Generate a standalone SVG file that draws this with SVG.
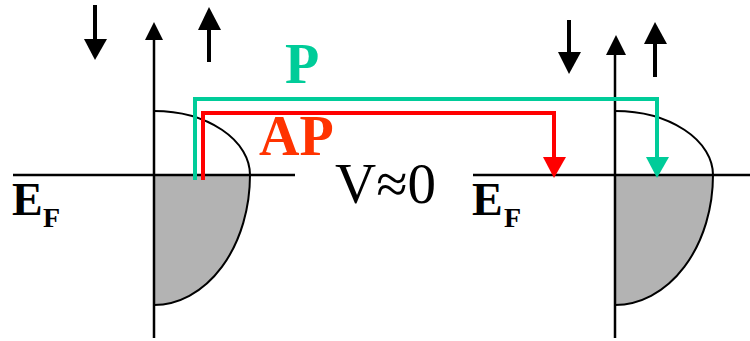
<svg xmlns="http://www.w3.org/2000/svg" width="750" height="341" viewBox="0 0 750 341">
<style>
.ax{stroke:#000;stroke-width:2.5;fill:none}
.ar{stroke:#000;stroke-width:4;fill:none}
.dos{stroke:#000;stroke-width:2;fill:none}
.fill{fill:#b3b3b3;stroke:none}
.tb{font-family:"Liberation Serif","Times New Roman",serif;font-weight:bold}
.tr{font-family:"Liberation Serif","Times New Roman",serif}
</style>
<rect width="750" height="341" fill="#fff"/>
<g id="left-dos">
<path class="fill" d="M154,175 L250,175 A96,130 0 0 1 154,305 Z"/>
<path class="dos" d="M154,111 A96,64 0 0 1 250,175 A96,130 0 0 1 154,305"/>
<line class="ax" x1="13" y1="175" x2="295" y2="175"/>
<line class="ax" x1="154" y1="38" x2="154" y2="338"/>
<polygon points="154,22 145,40 163,40" fill="#000"/>
<line class="ar" x1="95" y1="5" x2="95" y2="42"/>
<polygon points="95,60 84,39 107,39" fill="#000"/>
<line class="ar" x1="209" y1="28" x2="209" y2="62"/>
<polygon points="209,7 198,30 221,30" fill="#000"/>
<text class="tb" x="12" y="215" font-size="46">E</text>
<text class="tb" x="43" y="227" font-size="28">F</text>
</g>
<g id="right-dos">
<path class="fill" d="M615,175 L713,175 A98,130 0 0 1 615,305 Z"/>
<path class="dos" d="M615,111 A98,64 0 0 1 713,175 A98,130 0 0 1 615,305"/>
<line class="ax" x1="473" y1="175" x2="750" y2="175"/>
<line class="ax" x1="615" y1="53" x2="615" y2="338"/>
<polygon points="616,35 606,55 626,55" fill="#000"/>
<line class="ar" x1="569" y1="20" x2="569" y2="55"/>
<polygon points="569,74 558,52 581,52" fill="#000"/>
<line class="ar" x1="655" y1="42" x2="655" y2="77"/>
<polygon points="655,22 644,44 667,44" fill="#000"/>
<text class="tb" x="472" y="215" font-size="46">E</text>
<text class="tb" x="504" y="227" font-size="28">F</text>
</g>
<g id="connectors">
<polyline points="195,180 195,99 657,99 657,160" fill="none" stroke="#00cc99" stroke-width="4"/>
<polygon points="657,178 646,157 669,157" fill="#00cc99"/>
<polyline points="203,180 203,113 554,113 554,160" fill="none" stroke="#ff0000" stroke-width="4"/>
<polygon points="554,178 543,157 566,157" fill="#ff0000"/>
</g>
<g id="labels">
<text class="tb" x="285" y="83" font-size="56" fill="#00cc99">P</text>
<text class="tb" x="259" y="155" font-size="56" fill="#ff3300">AP</text>
<text class="tr" x="335" y="203" font-size="57">V≈0</text>
</g>
</svg>
